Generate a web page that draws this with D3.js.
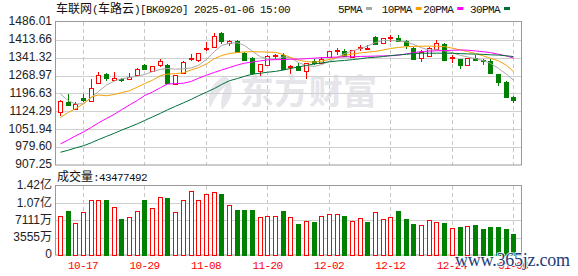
<!DOCTYPE html>
<meta charset="utf-8">
<script src="https://d3js.org/d3.v7.min.js"></script>
<style>
  body { margin: 0; background: #fff; }
  svg { display: block; }
</style>
<div id="chart"></div>
<script>

// trading days shown on the chart
var dates = ["10-14","10-15","10-16","10-17","10-18","10-21","10-22","10-23","10-24","10-25",
  "10-28","10-29","10-30","10-31","11-01","11-04","11-05","11-06","11-07","11-08",
  "11-11","11-12","11-13","11-14","11-15","11-18","11-19","11-20","11-21","11-22",
  "11-25","11-26","11-27","11-28","11-29","12-02","12-03","12-04","12-05","12-06",
  "12-09","12-10","12-11","12-12","12-13","12-16","12-17","12-18","12-19","12-20",
  "12-23","12-24","12-25","12-26","12-27","12-30","12-31","01-02","01-03","01-06"];

var opens = [1123.1,1163.4,1135.2,1176.8,1166.1,1238.7,1275.0,1250.8,1253.5,1254.8,
  1273.6,1311.3,1285.7,1311.3,1312.6,1234.7,1279.0,1339.5,1331.4,1375.8,
  1383.9,1440.3,1401.3,1410.7,1362.4,1342.2,1285.7,1314.0,1346.3,1351.6,
  1307.2,1308.6,1285.7,1328.0,1322.0,1343.5,1369.1,1370.4,1343.5,1379.8,
  1379.0,1426.9,1398.6,1424.2,1422.9,1408.1,1381.2,1342.2,1348.9,1378.5,
  1397.3,1342.2,1336.8,1311.3,1342.2,1332.8,1330.1,1275.0,1244.1,1183.6];
var highs = [1170.0,1194.3,1163.4,1194.3,1254.8,1281.7,1277.7,1281.7,1258.8,1277.7,
  1299.0,1316.6,1308.0,1338.2,1318.0,1272.0,1328.7,1357.0,1361.0,1405.4,
  1443.0,1445.7,1412.0,1413.4,1364.0,1345.0,1316.0,1354.3,1358.3,1359.7,
  1314.0,1319.3,1320.5,1335.5,1346.3,1370.0,1381.2,1378.5,1373.0,1392.0,
  1392.0,1428.0,1421.0,1433.6,1433.6,1412.1,1383.9,1373.1,1384.0,1413.4,
  1400.0,1353.0,1338.0,1342.0,1353.0,1335.5,1335.5,1277.0,1246.8,1187.6];
var lows = [1104.2,1147.3,1133.8,1163.4,1165.0,1236.0,1248.1,1249.4,1241.4,1253.5,
  1272.0,1289.8,1285.0,1303.2,1240.0,1234.0,1278.0,1328.7,1326.0,1370.4,
  1383.0,1397.3,1389.2,1365.0,1334.0,1272.3,1268.3,1313.0,1338.2,1292.4,
  1275.0,1288.4,1254.8,1314.0,1319.3,1342.0,1354.3,1346.3,1342.0,1370.4,
  1372.0,1397.0,1397.0,1406.7,1408.0,1378.5,1335.5,1326.0,1348.0,1377.0,
  1331.4,1322.0,1297.8,1310.0,1332.8,1312.6,1281.7,1227.9,1180.9,1158.0];
var closes = [1167.4,1152.6,1155.3,1168.8,1218.5,1269.6,1257.5,1258.8,1250.8,1264.2,
  1297.8,1293.8,1307.2,1327.4,1241.4,1271.0,1323.4,1342.2,1359.7,1381.2,
  1429.6,1408.1,1410.7,1366.4,1335.5,1281.7,1315.3,1350.3,1351.6,1295.1,
  1309.9,1291.1,1320.0,1318.0,1338.2,1369.1,1371.8,1351.6,1371.8,1383.0,
  1381.5,1398.6,1420.2,1426.9,1409.4,1391.9,1336.8,1365.0,1379.8,1402.7,
  1334.1,1344.9,1314.0,1340.9,1335.5,1330.1,1283.0,1241.4,1182.2,1170.1];

var volumes = [80.4e6,91.4e6,66.6e6,88.6e6,113.4e6,113.4e6,113.4e6,98.2e6,74.2e6,77.6e6,
  90.7e6,113.4e6,96.9e6,119.5e6,117.5e6,88.6e6,113.4e6,131.9e6,113.4e6,125.7e6,
  129.8e6,125.7e6,103.1e6,92.7e6,92.7e6,92.7e6,77.6e6,80.4e6,80.4e6,90.7e6,
  77.6e6,63.9e6,70.1e6,68.0e6,80.4e6,84.5e6,84.5e6,80.4e6,70.1e6,75.6e6,
  68.0e6,87.9e6,73.5e6,77.6e6,91.4e6,74.2e6,63.9e6,61.8e6,72.1e6,68.0e6,
  66.6e6,55.0e6,58.4e6,59.8e6,61.8e6,53.6e6,57.7e6,57.7e6,53.6e6,43477492];

// moving averages
var ma5 = [1194.4,1167.4,1154.1,1155.3,1180.7,1204.9,1230.7,1247.2,1256.1,1261.3,
  1266.6,1273.4,1285.1,1294.4,1298.0,1295.2,1296.8,1300.5,1310.5,1334.7,
  1367.0,1391.2,1400.1,1402.1,1391.2,1367.0,1344.8,1337.6,1334.7,1344.8,
  1340.8,1322.6,1308.5,1306.5,1313.4,1326.7,1342.8,1358.1,1369.0,1379.1,
  1388.4,1403.3,1411.4,1411.4,1409.3,1405.3,1395.2,1381.9,1372.1,1373.9,
  1369.8,1361.0,1350.9,1344.8,1337.6,1329.5,1318.6,1298.4,1274.2,1250.0];
var ma10 = [1100.0,1120.6,1135.1,1154.9,1182.7,1190.8,1187.5,1192.8,1200.0,1207.7,
  1223.0,1236.3,1250.4,1269.0,1275.4,1277.1,1280.3,1292.4,1301.3,1316.6,
  1338.0,1350.1,1358.5,1362.6,1365.0,1365.8,1365.0,1364.2,1363.0,1353.7,
  1342.8,1331.9,1325.5,1323.8,1327.5,1334.7,1343.6,1350.9,1356.9,1361.0,
  1363.8,1367.0,1373.0,1378.7,1383.1,1386.0,1387.2,1388.0,1388.4,1387.6,
  1386.4,1379.9,1373.0,1366.6,1358.5,1348.9,1338.8,1328.7,1310.5,1285.5];
var ma20 = [992.7,1009.3,1025.0,1041.1,1060.1,1077.8,1095.6,1112.9,1131.1,1150.4,
  1169.0,1187.9,1202.5,1220.2,1235.1,1236.7,1238.3,1246.0,1258.5,1270.6,
  1282.3,1291.6,1301.7,1312.2,1319.4,1323.8,1328.7,1332.7,1333.5,1334.4,
  1335.2,1336.0,1337.6,1339.6,1341.6,1343.2,1344.0,1344.8,1345.7,1346.5,
  1347.3,1348.1,1348.9,1349.3,1351.7,1357.0,1361.8,1366.6,1368.3,1369.5,
  1370.3,1371.5,1372.7,1371.9,1369.1,1365.4,1362.2,1355.3,1348.5,1340.0];
var ma30 = [958.9,967.4,976.2,985.1,997.6,1010.1,1023.0,1035.9,1048.4,1060.9,
  1074.2,1087.1,1102.0,1116.6,1130.7,1144.8,1158.9,1173.4,1187.5,1202.1,
  1217.0,1232.7,1248.4,1257.3,1266.2,1275.1,1278.7,1282.7,1286.3,1291.6,
  1298.0,1304.1,1310.5,1316.2,1320.6,1324.7,1328.3,1330.3,1333.9,1337.2,
  1341.2,1343.2,1346.4,1350.1,1352.9,1355.3,1358.5,1359.7,1359.7,1359.7,
  1359.7,1359.4,1358.1,1356.9,1356.1,1354.9,1353.3,1352.1,1349.3,1346.0];

var priceTicks = [1486.01,1413.66,1341.32,1268.97,1196.63,1124.29,1051.94,979.60,907.25];
var volTicks = [0, 35550000, 71110000, 106650000, 142200000];
var volTickLabels = ["0","3555万","7111万","1.07亿","1.42亿"];
var dateTicks = ["10-17","10-29","11-08","11-20","12-02","12-12","12-24","01-06"];

var maNames = ["5PMA","10PMA","20PMA","30PMA"];
var maColors = ["#a8a8a8","#f5a000","#ff00ff","#00703a"];
var maSeries = [ma5, ma10, ma20, ma30];

var UP = "#ff0000", DOWN = "#008000";
var CJK = "'Noto Sans CJK SC', sans-serif";
var MONO = "'Liberation Mono', monospace";
var SANS = "'Liberation Sans', 'Noto Sans CJK SC', sans-serif";

var svg = d3.select("#chart")
  .append("svg")
    .attr("width", 578)
    .attr("height", 276);

var L = 56, R = 522;
var x = d3.scaleBand().domain(dates).range([56, 517.2]);
var y = d3.scaleLinear().domain([907.25, 1486.01]).range([165, 22]);
var yv = d3.scaleLinear().domain([0, 142200000]).range([255, 186]);

function cx(d) { return Math.round(x(d) + x.bandwidth() / 2) + 0.5; }
function px(v) { return Math.round(v) + 0.5; }

// watermark behind the price panel
var wm = svg.append("g").attr("fill", "#e5e5ea");
wm.append("path")
  .attr("d", "M226,76 C214,80 206,92 210,108 C214,100 218,92 226,86 C222,94 220,102 222,110 C232,100 236,86 226,76 Z");
wm.append("text")
  .attr("x", 240).attr("y", 104)
  .style("font-family", CJK).style("font-size", "34px").style("font-weight", "bold")
  .attr("textLength", 137)
  .text("东方财富");

// horizontal grid, price panel
svg.append("g").selectAll("line")
  .data(priceTicks.slice(1, -1))
  .enter().append("line")
    .attr("x1", L).attr("x2", R)
    .attr("y1", function(d) { return px(y(d)); })
    .attr("y2", function(d) { return px(y(d)); })
    .attr("stroke", "#d0d0d0");

// horizontal grid, volume panel
svg.append("g").selectAll("line")
  .data(volTicks.slice(1, -1))
  .enter().append("line")
    .attr("x1", L).attr("x2", R)
    .attr("y1", function(d) { return px(yv(d)); })
    .attr("y2", function(d) { return px(yv(d)); })
    .attr("stroke", "#d0d0d0");

// dashed verticals at date ticks
[[22, 165], [186, 255]].forEach(function(span) {
  svg.append("g").selectAll("line")
    .data(dateTicks)
    .enter().append("line")
      .attr("x1", cx).attr("x2", cx)
      .attr("y1", span[0]).attr("y2", span[1])
      .attr("stroke", "#c8c8c8")
      .attr("stroke-dasharray", "4,3");
});

// panel frames
svg.append("rect").attr("x", 55.5).attr("y", 21.5).attr("width", 466).attr("height", 143.5)
  .attr("fill", "none").attr("stroke", "#9a9a9a");
svg.append("rect").attr("x", 55.5).attr("y", 185.5).attr("width", 466).attr("height", 69.5)
  .attr("fill", "none").attr("stroke", "#9a9a9a");

// candles
var idx = d3.range(dates.length);
var candles = svg.append("g").attr("shape-rendering", "crispEdges")
  .selectAll("g").data(idx).enter().append("g");

candles.append("line")
  .attr("x1", function(i) { return cx(dates[i]); })
  .attr("x2", function(i) { return cx(dates[i]); })
  .attr("y1", function(i) { return Math.round(y(highs[i])); })
  .attr("y2", function(i) { return Math.round(y(lows[i])); })
  .attr("stroke", function(i) { return closes[i] >= opens[i] ? UP : DOWN; });

candles.append("rect")
  .attr("x", function(i) { return cx(dates[i]) - 2; })
  .attr("width", 4)
  .attr("y", function(i) { return px(y(Math.max(opens[i], closes[i]))); })
  .attr("height", function(i) {
    return Math.max(1, Math.round(Math.abs(y(opens[i]) - y(closes[i]))));
  })
  .attr("fill", function(i) { return closes[i] >= opens[i] ? "#fff" : DOWN; })
  .attr("stroke", function(i) { return closes[i] >= opens[i] ? UP : DOWN; });

// moving average lines
maSeries.forEach(function(s, k) {
  svg.append("path")
    .datum(s)
    .attr("fill", "none")
    .attr("stroke", maColors[k])
    .attr("stroke-width", 1)
    .attr("d", d3.line()
      .x(function(d, i) { return cx(dates[i]); })
      .y(function(d) { return y(d); }));
});

// volume bars, coloured by close against the previous close
function volUp(i) { return i === 0 ? closes[i] >= opens[i] : closes[i] >= closes[i - 1]; }
svg.append("g").attr("shape-rendering", "crispEdges")
  .selectAll("rect").data(idx).enter().append("rect")
    .attr("x", function(i) { return cx(dates[i]) - 2; })
    .attr("width", 4)
    .attr("y", function(i) { return px(yv(volumes[i])); })
    .attr("height", function(i) { return 255 - px(yv(volumes[i])); })
    .attr("fill", function(i) { return volUp(i) ? "#fff" : DOWN; })
    .attr("stroke", function(i) { return volUp(i) ? UP : DOWN; });

// price axis labels
svg.append("g")
  .attr("transform", "translate(" + L + ",-1)")
  .call(d3.axisLeft(y).tickValues(priceTicks).tickSize(0).tickPadding(4)
    .tickFormat(function(d) { return d.toFixed(2); }))
  .call(function(g) { g.select(".domain").remove(); })
  .selectAll("text")
    .style("font-family", SANS).style("font-size", "12px").attr("fill", "#222");

// volume axis labels
svg.append("g")
  .attr("transform", "translate(" + L + ",-1)")
  .call(d3.axisLeft(yv).tickValues(volTicks).tickSize(0).tickPadding(4)
    .tickFormat(function(d, i) { return volTickLabels[i]; }))
  .call(function(g) { g.select(".domain").remove(); })
  .selectAll("text")
    .style("font-family", SANS).style("font-size", "12px").attr("fill", "#222");

// date axis
svg.append("g")
  .attr("transform", "translate(0,258)")
  .call(d3.axisBottom(x).tickValues(dateTicks).tickSize(0).tickPadding(3))
  .call(function(g) { g.select(".domain").remove(); })
  .selectAll("text")
    .style("font-family", MONO).style("font-size", "11px").style("letter-spacing", "-0.6px")
    .attr("fill", "#ff0000");

// title: CJK parts and ASCII parts in different faces
var titleParts = [["车联网", CJK, 12], ["(", MONO, 11], ["车路云", CJK, 12],
  [")[BK0920] 2025-01-06 15:00", MONO, 11]];
var title = svg.append("text").attr("x", 56).attr("y", 13).attr("fill", "#111");
titleParts.forEach(function(p) {
  title.append("tspan")
    .style("font-family", p[1]).style("font-size", p[2] + "px")
    .style("letter-spacing", p[1] === MONO ? "-0.6px" : "0px")
    .text(p[0]);
});

// legend
var legX = [338, 381.7, 423.3, 470];
maNames.forEach(function(n, k) {
  svg.append("text")
    .attr("x", legX[k]).attr("y", 13)
    .style("font-family", MONO).style("font-size", "11px").style("letter-spacing", "-0.6px")
    .attr("fill", "#111")
    .text(n);
  svg.append("rect")
    .attr("x", legX[k] + n.length * 6 + 4).attr("y", 7)
    .attr("width", 6).attr("height", 3)
    .attr("fill", maColors[k]);
});

// volume caption
var cap = svg.append("text").attr("x", 57).attr("y", 181).attr("fill", "#111");
cap.append("tspan").style("font-family", CJK).style("font-size", "12px").text("成交量");
cap.append("tspan").style("font-family", MONO).style("font-size", "11px")
  .style("letter-spacing", "-0.6px").text(":" + volumes[volumes.length - 1]);

// site watermark over the lower right corner
svg.append("text")
  .attr("x", 455).attr("y", 266)
  .attr("textLength", 115)
  .style("font-family", "'Liberation Serif', serif").style("font-size", "18px")
  .attr("fill", "#1d3d78")
  .attr("stroke", "#fff").attr("stroke-width", 1.5).attr("paint-order", "stroke")
  .text("www.365jz.com");

</script>
